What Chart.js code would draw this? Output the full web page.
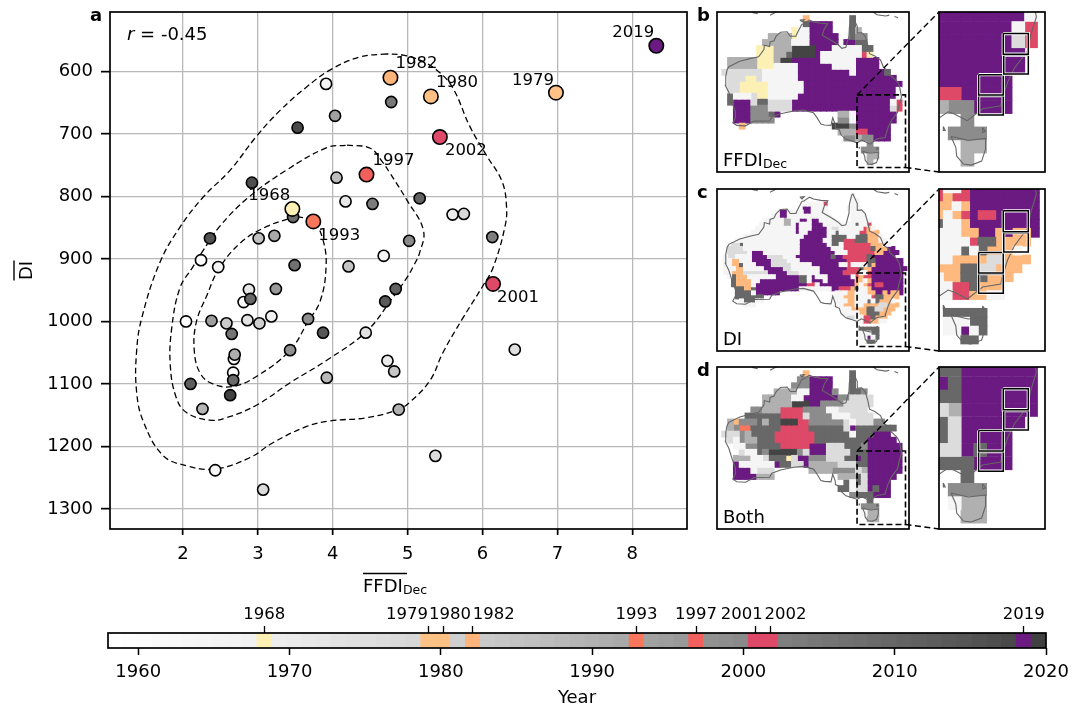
<!DOCTYPE html>
<html>
<head>
<meta charset="utf-8">
<title>FFDI and DI</title>
<script src="https://cdn.jsdelivr.net/npm/chart.js@4"></script>
<style>
  html, body { margin: 0; padding: 0; background: #fff; }
  body { position: relative; width: 1072px; height: 707px; overflow: hidden; }
  canvas { position: absolute; }
  #overlay { pointer-events: none; }
</style>
</head>
<body>
<canvas id="scatterChart" style="left:0;top:0" width="700" height="610"></canvas>
<canvas id="mapB" style="left:715px;top:10px" width="196" height="164"></canvas>
<canvas id="insetB" style="left:937px;top:10px" width="110" height="164"></canvas>
<canvas id="mapC" style="left:715px;top:187px" width="196" height="166"></canvas>
<canvas id="insetC" style="left:937px;top:187px" width="110" height="166"></canvas>
<canvas id="mapD" style="left:715px;top:365px" width="196" height="166"></canvas>
<canvas id="insetD" style="left:937px;top:365px" width="110" height="166"></canvas>
<canvas id="yearBar" style="left:60px;top:600px" width="1012" height="107"></canvas>
<canvas id="overlay" style="left:0;top:0" width="1072" height="707"></canvas>

<script>
// scatter values, one per year
const years = [1958,1959,1960,1961,1962,1963,1964,1965,1966,1967,1969,1970,1971,1972,1973,1974,1975,1976,1977,1978,
  1981,1983,1984,1985,1986,1987,1988,1989,1990,1991,1992,1994,1995,1996,1998,1999,2000,2003,2004,2005,2006,2007,
  2008,2009,2010,2011,2012,2013,2014,2015,2016,2017,2018,2020];
const ffdi = [2.67,2.24,2.04,2.81,2.68,2.43,3.91,2.47,4.68,3.18,5.60,4.73,4.17,2.88,2.86,4.44,6.43,5.37,3.07,5.75,
  3.02,2.58,4.82,4.21,3.01,4.05,3.92,2.26,4.88,2.69,3.22,4.03,2.38,3.24,3.43,3.67,5.02,6.13,4.53,4.78,2.65,3.49,
  3.47,2.67,2.90,5.16,4.84,2.10,4.70,3.87,2.36,2.92,3.53,2.63];
const di = [1082,902,1000,969,1060,1238,620,913,895,992,829,1063,808,949,998,1018,1045,1215,1269,828,
  1003,1003,1080,912,867,770,1090,1140,1141,1053,863,671,999,948,1046,996,871,865,812,649,1020,910,
  833,1094,964,803,948,1100,968,1018,867,778,690,1118];

const topYears = [1968,1979,1980,1982,1993,1997,2001,2002,2019];
const topFfdi = [3.46,6.98,5.31,4.77,3.74,4.45,6.14,5.43,8.32];
const topDi = [820,634,640,610,840,765,940,705,559];
const topColours = ["#fcf0b5","#fec287","#fec083","#feb47b","#f8765c","#f1605d","#de4968","#de4968","#6a1a80"];

// density contours as [FFDI, DI]
const contourOuter = [[4.72,572],[4.36,577],[3.96,598],[3.65,625],[3.30,662],[2.98,704],[2.63,758],[2.27,801],[1.96,849],
  [1.69,906],[1.45,994],[1.38,1048],[1.38,1112],[1.47,1160],[1.73,1214],[2.05,1231],[2.43,1236],[2.89,1218],[3.20,1194],
  [3.65,1168],[3.96,1159],[4.45,1154],[4.87,1141],[5.03,1129],[5.30,1094],[5.47,1050],[5.72,998],[6.01,942],[6.14,914],
  [6.30,848],[6.32,816],[6.26,776],[6.05,734],[5.83,688],[5.60,626],[5.39,598],[5.16,582],[4.94,574],[4.72,572]];
const contourMiddle = [[4.19,718],[4.50,723],[4.67,746],[4.76,762],[4.99,806],[5.21,854],[5.16,890],[5.07,913],[4.99,930],
  [4.80,962],[4.45,1016],[3.92,1062],[3.43,1098],[2.98,1134],[2.58,1154],[2.36,1158],[2.05,1146],[1.91,1122],[1.83,1070],
  [1.85,1010],[1.96,946],[2.13,913],[2.25,890],[2.49,848],[2.87,802],[3.38,758],[3.92,722],[4.19,718]];
const contourInner = [[3.52,832],[3.12,848],[2.76,875],[2.47,918],[2.32,958],[2.18,1000],[2.15,1046],[2.23,1083],[2.40,1100],
  [2.67,1104],[2.98,1088],[3.43,1046],[3.67,1000],[3.83,968],[3.91,914],[3.87,870],[3.74,840],[3.52,832]];

const xTicks = [2,3,4,5,6,7,8];
const yTicks = [600,700,800,900,1000,1100,1200,1300];
const barTicks = [1960,1970,1980,1990,2000,2010,2020];

// most severe year per grid cell, by letter
// w l m g d k greys, y o s r p the highlighted years
const cellColours = { w:"#f5f5f5", l:"#dcdcdc", m:"#b0b0b0", g:"#8c8c8c", d:"#686868", k:"#444444",
  y:"#fcf0b5", o:"#feb97f", s:"#f8765c", r:"#de4968", p:"#6a1a80" };

const gridFfdi = [
  "..............o.......d........",
  "..............dpppp...d........",
  "............ywwpppp...dm.......",
  "........mmmmywwppppp..dgg......",
  ".......mmmmmwwwppppp.ppdd......",
  "......yyymmmkkkkpppwwwwwdd.....",
  "......yyymmdkkkkpwwwwwwwry.....",
  ".mmmmmyyymkkpppppwwwwwwpppp....",
  ".mmmmmyyywwwwppppppwwwwpppp....",
  "lllllllwwwwwwpppppppppwpppppd..",
  ".lllyylwwwwwwppppppppppppppppp.",
  ".llyyyyywwwwwwppppppppppppppppp",
  ".llyyyyywwwwwwppppppppppppppppw",
  ".dwwwlyywwwwwpppppppppppppppppw",
  ".dppplddllllpppppppppppppppppwr",
  "..pppgggllllppppppppppppppppplr",
  "..pppgggdp..........mmwppppppp.",
  "..pppgggg...........ggwppppppp.",
  "...o...............kkkgpppppp..",
  "....................mmmrrpppp..",
  ".....................ggmggppp..",
  ".........................g.....",
  "........................ggg....",
  ".........................mm....",
  ".........................m....."
];
const gridBoth = [
  "..............o.......d........",
  ".............ggpppp...d........",
  "............gggpppp...d........",
  ".........mmmmwwppppg..ddg......",
  ".......mmmmmwwppppppggllll.....",
  ".......mmmmmkkkppgggglllll.....",
  ".....ggmmmrrrrggggwwlllll......",
  "....ddddddrrrrlggggwwwllll.....",
  ".mogggdmddkkkrrgggggglwlllgg...",
  ".mgssdddddrrrrrddddddlpddddddd.",
  "lllgmddddrrrrrrrddddddwdddppp..",
  ".lwgmmdddrrrrrrrdddddddddppppp.",
  "..wwggddddrrrrrpppllldddgpppppp",
  "...lwwdgkkkkkglppplllldddpppppp",
  "..mmmwwldddylppgggllldd" + "pd" + "pppppp",
  "..pwwwwwwpddllpmmmmmllldd" + "pppppp",
  "..pppwlll......mmmmggg" + "glm" + "pppppp",
  "..ppppmmm...........mmmdlppppp.",
  ".....................dwdlpppp..",
  "....................ddwllpdpp..",
  "......................gdddppp..",
  ".........................d.....",
  "........................ggg....",
  "........................wmm....",
  ".........................mm...."
];
const gridDi = [
  "................................w",
  "................................ww",
  "....................wwwwwr......ww",
  "....................ppwwww.....www",
  ".............wppwwwwppwwww......www",
  "............wwppwwwwwwwwwww.....wwww",
  "..........wwwwwmmwwppwppwwww....wwwww",
  ".........wwwwwwmmwpwwwpppwwwww.wwdwwr",
  "........wwwwwwwwwwpwwwppppwllwwwwwwrow",
  ".......wwwwwwwwwwwpwwpppppwwdwwwwwrrooo",
  ".....wwwwwwwwwwwwwwwppppppwddddwwdddooow",
  "...wwwwwwwwwwwwwwwwppppppwwdddrrrdddoooww",
  "..lldwwwwwwwwwwwwwwpppppppwddwrrrrrrroooww",
  ".llllwwwwwwwwwwwwwwppppppppwwwrrrrrrrdooopp",
  ".lllllwpppwwwwwwwwwpppppppppwwwrrrrrrroopppp",
  "wllwwwwppppllllwwwpppppppppdpprrrrrrdpppppp",
  "wwoowwwpppppllllwwwpppppppppppprrrrrddppppppp",
  "wwoodwwwpppplllllwwwwwpppppppwwrwwwwdoppppppp",
  "wwwoowwwwwpppppllwwwwwwwppppppprrrdooppppppppp",
  "wwooollllllppppplllwwwwwpppppprrr" + "rwwrpppppppp",
  ".wdooowwwwwwwppppppddwpwwwppppppw" + "rorrpppppppp",
  "..doooowwppppppppppddwpppwppppppp" + "oowopppppppp",
  "..doooowppppppppppppprrwppppppppp" + "oworprrppppp",
  "...ddoodpppppppppppwwwwwwwwpprrro" + "dwwopppppppp",
  "...ddddwpppppp..............wwwoo" + "wwwooppopoop",
  "...ddddddd.................wwwooo" + "wwwwrddoooo",
  "....wdddww..................wwwoo" + "wwwdwdooow",
  ".....www....................wwooo" + "wwoooollooo",
  ".............................wwwo" + "oooddllooo",
  "..............................www" + "wooddd" + "ooo",
  "...............................ll" + "wwrrdooo",
  ".................................wwrrooww",
  "",
  "..................................ddddd",
  "..................................wwwdd",
  "..................................wwpwd",
  "....................................dd"
];

// grid origin and cell size in degrees
const coarseGrid = { lon0: 112.6, lat0: -10.4, dLon: 1.326, dLat: 1.333 };
const fineGrid = { lon0: 113, lat0: -10.7, dLon: 0.909, dLat: 0.889 };

// coastlines as [lon, lat], null breaks the line
const coastLine = [[130.8,-12.4],[131.4,-12.2],[132.6,-11.4],[133.5,-11.8],[135.2,-12.1],[136.8,-12.2],[136,-13.3],[135.5,-14.8],
  [137.5,-15.9],[139,-16.8],[140,-17.7],[140.9,-17.5],[141.6,-15],[141.7,-13],[142.2,-11],[142.5,-10.7],[143.5,-12.8],
  [143.5,-14.3],[144.5,-14.2],[145.3,-15],[145.9,-17],[146.3,-18.9],[147.5,-19.4],[148.8,-20.3],[149.5,-22],[150.8,-22.9],
  [150.9,-23.6],[152.5,-25],[153.1,-26],[153.6,-28.6],[153,-30.5],[152.7,-32],[151.3,-33.8],[150.6,-35.2],[150,-37],[149.9,-37.6],
  [148,-37.9],[146.4,-39.1],[145,-38.4],[144.4,-38.2],[143.5,-38.8],[142,-38.3],[140.9,-38],[139.8,-37],[139.4,-35.9],[138.5,-35.5],
  [138.5,-34.8],[137.9,-33.2],[137.5,-34.9],[136,-34.8],[135.2,-34.6],[134.2,-33],[133.5,-32.1],[131.2,-31.5],[129,-31.7],[126,-32.3],
  [124,-33],[123.5,-33.9],[120,-33.95],[118,-35],[116,-34.9],[115.1,-34.3],[115.7,-33.2],[115.7,-31.8],[115,-30],[114.2,-27.5],
  [113.4,-26],[113.5,-24],[113.8,-22.5],[114.2,-21.8],[116.7,-20.6],[119,-20],[121,-19.6],[122.2,-18],[122.3,-17],[123.5,-17.3],
  [123.6,-16.3],[124.5,-16],[125,-15],[126,-14.1],[127.5,-14],[128.2,-15],[129.5,-15],[129.7,-14.5],[130.5,-13],[130.8,-12.4],null,
  [144.7,-40.7],[146.5,-41.1],[148.3,-40.9],[148.3,-42],[147.9,-43.2],[146.8,-43.6],[146,-43.5],[145.3,-42.7],[145.2,-41.8],[144.7,-40.7],null,
  [143.9,-39.7],[144.1,-40.1],[143.9,-40.1],[143.9,-39.7],null,[148,-39.8],[148.3,-40.2],[148,-40.3],[148,-39.8],null,
  [130.4,-11.4],[131.4,-11.3],[130.9,-11.8],[130.4,-11.4],null,[119.5,-9.7],[120.8,-10],null,[123.6,-10.3],[125,-9.6],[125.6,-9.4],null,
  [147.1,-9.6],[148,-10.2],[150,-10.5],[150.8,-10.3],null,[152,-10.6],[152.8,-10.9]];

const mapLon = [111.5, 155.3];
const mapLat = [-45.3, -9.6];
const zoomLon = [143.45, 154.5];
const zoomLat = [-44.3, -28.1];
const subRegionLon = [[150.15,152.76],[150.2,152.76],[147.58,150.15],[147.58,150.15]];
const subRegionLat = [[-30.28,-32.37],[-32.47,-34.39],[-34.45,-36.5],[-36.57,-38.52]];

const tickFont = { size: 18 };
Chart.defaults.font.family = "'DejaVu Sans', sans-serif";
Chart.defaults.color = "#000";
Chart.defaults.animation = false;

function greyFor(year) {
  const stops = [255,240,217,189,150,115,82,37,0];
  const t = (year - 1958) / 62 * 0.8 * 8;
  const i = Math.floor(t);
  const v = Math.round(stops[i] + (stops[i + 1] - stops[i]) * (t - i));
  return `rgb(${v},${v},${v})`;
}

function fixedTicks(values) {
  return function (scale) { scale.ticks = values.map(v => ({ value: v })); };
}

// keep the plot area where it was asked for, whatever the tick labels need
function fixHeight(h) {
  return function (s) { s.height = h; s.paddingLeft = s.paddingRight = s.paddingTop = s.paddingBottom = 0; };
}
function fixWidth(w) {
  return function (s) { s.width = w; s.paddingLeft = s.paddingRight = s.paddingTop = s.paddingBottom = 0; };
}

function drawRuns(ctx, runs, x, y) {
  // runs of text side by side on one baseline
  runs.forEach(r => {
    ctx.font = r.font;
    ctx.fillText(r.text, x, y + (r.dy || 0));
    x += ctx.measureText(r.text).width;
  });
}

const framePlugin = {
  id: "frame",
  afterDraw(chart) {
    const a = chart.chartArea, ctx = chart.ctx;
    ctx.save();
    ctx.strokeStyle = "#000";
    ctx.lineWidth = 1.7;
    ctx.strokeRect(a.left, a.top, a.right - a.left, a.bottom - a.top);
    ctx.restore();
  }
};

// year labels and axis titles for the scatter
const yearLabelOffsets = { 1968: [-23, -13], 1979: [-23, -12], 1980: [26, -14], 1982: [26, -14], 1993: [26, 14],
  1997: [27, -14], 2001: [25, 14], 2002: [26, 14], 2019: [-23, -13] };

const scatterText = {
  id: "scatterText",
  afterDatasetsDraw(chart) {
    const ctx = chart.ctx, x = chart.scales.x, y = chart.scales.y;
    ctx.save();
    ctx.fillStyle = "#000";
    ctx.textBaseline = "middle";
    ctx.textAlign = "center";
    ctx.font = "16.5px 'DejaVu Sans'";
    topYears.forEach((yr, i) => {
      const off = yearLabelOffsets[yr];
      ctx.fillText(String(yr), x.getPixelForValue(topFfdi[i]) + off[0], y.getPixelForValue(topDi[i]) + off[1]);
    });
    ctx.restore();
  },
  afterDraw(chart) {
    const ctx = chart.ctx;
    ctx.save();
    ctx.fillStyle = "#000";
    ctx.strokeStyle = "#000";
    ctx.textBaseline = "alphabetic";
    ctx.textAlign = "left";
    drawRuns(ctx, [
      { text: "r", font: "italic 18px 'DejaVu Sans'" },
      { text: " = -0.45", font: "18px 'DejaVu Sans'" }
    ], 127, 40);
    ctx.font = "bold 18px 'DejaVu Sans'";
    ctx.fillText("a", 90, 21);

    drawRuns(ctx, [
      { text: "FFDI", font: "18px 'DejaVu Sans'" },
      { text: "Dec", font: "12.5px 'DejaVu Sans'", dy: 2 }
    ], 363, 592);
    ctx.lineWidth = 1.4;
    ctx.beginPath(); ctx.moveTo(363, 573.5); ctx.lineTo(407, 573.5); ctx.stroke();

    ctx.translate(32, 270.5);
    ctx.rotate(-Math.PI / 2);
    ctx.textAlign = "center";
    ctx.font = "18px 'DejaVu Sans'";
    ctx.fillText("DI", 0, 0);
    ctx.beginPath(); ctx.moveTo(-10, -18); ctx.lineTo(10, -18); ctx.stroke();
    ctx.restore();
  }
};

function contourSet(points) {
  return {
    data: points.map(p => ({ x: p[0], y: p[1] })),
    showLine: true, tension: 0.4, pointRadius: 0,
    borderColor: "#000", borderWidth: 1.3, borderDash: [6, 3.5], fill: false
  };
}

new Chart(document.getElementById("scatterChart"), {
  type: "scatter",
  data: {
    datasets: [
      {
        data: topYears.map((yr, i) => ({ x: topFfdi[i], y: topDi[i] })),
        pointRadius: 7.2, borderWidth: 1.6, borderColor: "#000", pointBackgroundColor: topColours
      },
      {
        data: years.map((yr, i) => ({ x: ffdi[i], y: di[i] })),
        pointRadius: 5.6, borderWidth: 1.6, borderColor: "#000", pointBackgroundColor: years.map(greyFor)
      },
      contourSet(contourOuter),
      contourSet(contourMiddle),
      contourSet(contourInner)
    ]
  },
  options: {
    responsive: false,
    layout: { padding: { top: 12, right: 13, left: 0, bottom: 0 } },
    plugins: { legend: { display: false }, tooltip: { enabled: false } },
    scales: {
      x: {
        type: "linear", min: 1.025, max: 8.73,
        afterBuildTicks: fixedTicks(xTicks),
        afterFit: fixHeight(81),
        grid: { color: "#b8b8b8", lineWidth: 1.3, tickColor: "#000", tickWidth: 1.7, tickLength: 6 },
        border: { display: false },
        ticks: { font: tickFont, padding: 9, maxRotation: 0, callback: v => String(v) }
      },
      y: {
        type: "linear", min: 505, max: 1332, reverse: true,
        afterBuildTicks: fixedTicks(yTicks),
        afterFit: fixWidth(110),
        grid: { color: "#b8b8b8", lineWidth: 1.3, tickColor: "#000", tickWidth: 1.7, tickLength: 9 },
        border: { display: false },
        ticks: { font: tickFont, padding: 8, callback: v => String(v) }
      }
    }
  },
  plugins: [framePlugin, scatterText]
});

function cellSets(rows, grid) {
  // one scatter dataset per colour letter
  return Object.keys(cellColours).map(letter => {
    const pts = [];
    rows.forEach((row, j) => {
      for (let i = 0; i < row.length; i++) {
        if (row[i] === letter) {
          pts.push({ x: grid.lon0 + (i + 0.5) * grid.dLon, y: grid.lat0 - (j + 0.5) * grid.dLat });
        }
      }
    });
    return {
      data: pts, pointStyle: "rect", borderWidth: 0, clip: 0,
      backgroundColor: cellColours[letter],
      pointRadius(ctx) {
        const s = ctx.chart.scales.x;
        const side = Math.abs(s.getPixelForValue(grid.dLon) - s.getPixelForValue(0));
        return (side + 1) / Math.SQRT2;
      }
    };
  });
}

function outlineSet(lons, lats, colour, width, dash) {
  const pts = [];
  lons.forEach((lon, i) => pts.push({ x: lon, y: lats[i] }));
  return { data: pts, showLine: true, pointRadius: 0, borderColor: colour, borderWidth: width, borderDash: dash || [], clip: 0, tension: 0 };
}

function coastSet() {
  const pts = coastLine.map(p => p ? { x: p[0], y: p[1] } : { x: NaN, y: NaN });
  return { data: pts, showLine: true, spanGaps: false, pointRadius: 0, borderColor: "#666", borderWidth: 1.1, clip: 0, tension: 0 };
}

function mapOptions(lonRange, latRange) {
  return {
    responsive: false,
    layout: { padding: 2 },
    plugins: { legend: { display: false }, tooltip: { enabled: false } },
    scales: {
      x: { type: "linear", display: false, min: lonRange[0], max: lonRange[1] },
      y: { type: "linear", display: false, min: latRange[0], max: latRange[1] }
    }
  };
}

const panelLabel = (runs) => ({
  id: "panelLabel",
  afterDraw(chart) {
    const ctx = chart.ctx;
    ctx.save();
    ctx.fillStyle = "#000";
    ctx.textAlign = "left";
    ctx.textBaseline = "alphabetic";
    drawRuns(ctx, runs, chart.chartArea.left + 6, chart.chartArea.bottom - 6);
    ctx.restore();
  }
});

const zoomBoxLon = [zoomLon[0], zoomLon[1], zoomLon[1], zoomLon[0], zoomLon[0]];
const zoomBoxLat = [zoomLat[1], zoomLat[1], zoomLat[0], zoomLat[0], zoomLat[1]];

function drawMap(id, rows, grid, label) {
  return new Chart(document.getElementById(id), {
    type: "scatter",
    data: { datasets: [
      outlineSet(zoomBoxLon, zoomBoxLat, "#000", 1.6, [6, 3]),
      coastSet(),
      ...cellSets(rows, grid)
    ] },
    options: mapOptions(mapLon, mapLat),
    plugins: [framePlugin, panelLabel(label)]
  });
}

function drawInset(id, rows, grid) {
  const boxes = [];
  subRegionLon.forEach((lon, i) => {
    const lat = subRegionLat[i];
    const bx = [lon[0], lon[1], lon[1], lon[0], lon[0]];
    const by = [lat[0], lat[0], lat[1], lat[1], lat[0]];
    boxes.push(outlineSet(bx, by, "#000", 1.5));
    boxes.push(outlineSet(bx, by, "#fff", 3.2));
  });
  return new Chart(document.getElementById(id), {
    type: "scatter",
    data: { datasets: [...boxes, coastSet(), ...cellSets(rows, grid)] },
    options: mapOptions(zoomLon, zoomLat),
    plugins: [framePlugin]
  });
}

const labelFont = "18px 'DejaVu Sans'";
const mapCharts = [
  [drawMap("mapB", gridFfdi, coarseGrid, [{ text: "FFDI", font: labelFont }, { text: "Dec", font: "12.5px 'DejaVu Sans'", dy: 2 }]),
    drawInset("insetB", gridFfdi, coarseGrid)],
  [drawMap("mapC", gridDi, fineGrid, [{ text: "DI", font: labelFont }]),
    drawInset("insetC", gridDi, fineGrid)],
  [drawMap("mapD", gridBoth, coarseGrid, [{ text: "Both", font: labelFont }]),
    drawInset("insetD", gridBoth, coarseGrid)]
];

// colour bar: one cell per year on a category axis, year axis underneath
const barYears = [];
for (let yr = 1958; yr <= 2020; yr++) barYears.push(yr);

// the crowded labels sit to one side of their tick
const barLabelShift = { 1979: -21, 1980: 7, 1982: 21, 2001: -14, 2002: 15 };

const barLabels = {
  id: "barLabels",
  afterDraw(chart) {
    const ctx = chart.ctx, s = chart.scales.cells;
    ctx.save();
    ctx.fillStyle = "#000";
    ctx.textAlign = "center";
    ctx.textBaseline = "middle";
    ctx.font = "16.5px 'DejaVu Sans'";
    topYears.forEach(yr => {
      ctx.fillText(String(yr), s.getPixelForValue(barYears.indexOf(yr)) + (barLabelShift[yr] || 0), 15);
    });
    ctx.restore();
  }
};

new Chart(document.getElementById("yearBar"), {
  type: "bar",
  data: {
    labels: barYears.map(String),
    datasets: [{
      data: barYears.map(() => 1),
      xAxisID: "cells",
      barPercentage: 1, categoryPercentage: 1, borderWidth: 0,
      backgroundColor: barYears.map(yr => {
        const k = topYears.indexOf(yr);
        return k >= 0 ? topColours[k] : greyFor(yr);
      })
    }]
  },
  options: {
    responsive: false,
    layout: { padding: { left: 48, right: 26, top: 0, bottom: 0 } },
    plugins: { legend: { display: false }, tooltip: { enabled: false } },
    scales: {
      cells: {
        type: "category", position: "top", offset: true,
        afterBuildTicks(s) { s.ticks = s.ticks.filter(t => topYears.includes(barYears[t.value])); },
        afterFit: fixHeight(33),
        grid: { offset: false, drawOnChartArea: false, tickColor: "#000", tickWidth: 1.3, tickLength: 7 },
        border: { display: false },
        ticks: { display: false, autoSkip: false, maxRotation: 0 }
      },
      years: {
        type: "linear", position: "bottom", min: 1958, max: 2020, offset: false,
        afterBuildTicks: fixedTicks(barTicks),
        afterFit: fixHeight(59),
        grid: { offset: false, drawOnChartArea: false, tickColor: "#000", tickWidth: 1.5, tickLength: 7 },
        border: { display: false },
        ticks: { font: tickFont, padding: 7, maxRotation: 0, callback: v => String(v) },
        title: { display: true, text: "Year", font: { size: 18 }, padding: { top: 0, bottom: -2 } }
      },
      y: { display: false, min: 0, max: 1 }
    }
  },
  plugins: [framePlugin, barLabels]
});

// panel letters and dashed connectors go on a sheet over the charts
const sheet = document.getElementById("overlay").getContext("2d");
sheet.fillStyle = "#000";
sheet.font = "bold 18px 'DejaVu Sans'";
sheet.textBaseline = "alphabetic";
const panelLetters = ["b", "c", "d"];
sheet.lineWidth = 1.4;
sheet.strokeStyle = "#000";
mapCharts.forEach((pair, i) => {
  const map = pair[0], inset = pair[1];
  const ox = map.canvas.offsetLeft, oy = map.canvas.offsetTop, ix = inset.canvas.offsetLeft, iy = inset.canvas.offsetTop;
  sheet.fillText(panelLetters[i], ox - 18, oy + map.chartArea.top + 9);
  sheet.setLineDash([6, 3.5]);
  sheet.beginPath();
  sheet.moveTo(ox + map.scales.x.getPixelForValue(zoomLon[0]), oy + map.scales.y.getPixelForValue(zoomLat[1]));
  sheet.lineTo(ix + inset.chartArea.left, iy + inset.chartArea.top);
  sheet.moveTo(ox + map.scales.x.getPixelForValue(zoomLon[1]), oy + map.scales.y.getPixelForValue(zoomLat[0]));
  sheet.lineTo(ix + inset.chartArea.left, iy + inset.chartArea.bottom);
  sheet.stroke();
});
</script>
</body>
</html>
